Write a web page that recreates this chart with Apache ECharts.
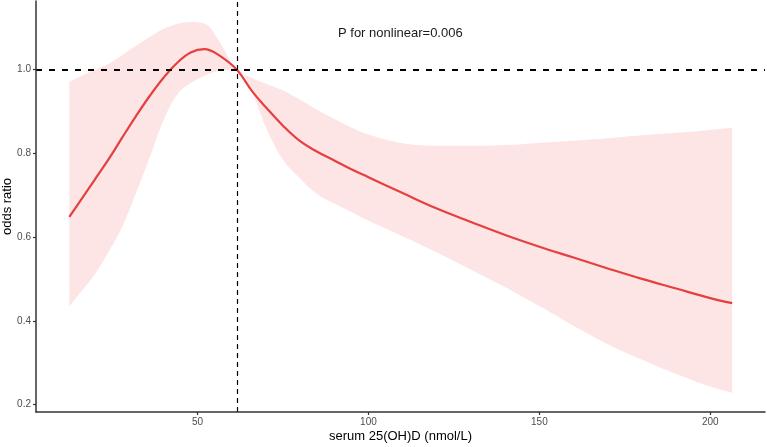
<!DOCTYPE html>
<html>
<head>
<meta charset="utf-8">
<script src="https://cdn.jsdelivr.net/npm/echarts@6/dist/echarts.min.js"></script>
<style>
html,body{margin:0;padding:0;background:#fff;}
#c{width:767px;height:447px;}
</style>
</head>
<body>
<div id="c"></div>
<script>
// serum 25(OH)D values (nmol/L)
var xs = [12.5, 16, 20, 24, 28, 32, 36, 40, 44, 48, 52, 56, 61.5, 66, 70, 75, 80, 85, 90, 95, 100, 110, 120, 130, 140, 150, 160, 170, 180, 190, 200, 206.4];
// odds ratio estimate
var orFit = [0.648, 0.690, 0.738, 0.786, 0.838, 0.889, 0.937, 0.980, 1.016, 1.041, 1.049, 1.036, 1.000, 0.948, 0.910, 0.866, 0.829, 0.804, 0.783, 0.762, 0.743, 0.705, 0.668, 0.636, 0.605, 0.577, 0.551, 0.525, 0.500, 0.477, 0.454, 0.442];
// 95% CI upper
var ciUpper = [0.971, 0.985, 1.000, 1.014, 1.035, 1.057, 1.078, 1.097, 1.109, 1.114, 1.110, 1.072, 1.000, 0.980, 0.966, 0.950, 0.928, 0.904, 0.882, 0.862, 0.845, 0.824, 0.818, 0.818, 0.820, 0.825, 0.830, 0.836, 0.843, 0.849, 0.856, 0.861];
// 95% CI lower
var ciLower = [0.435, 0.470, 0.512, 0.565, 0.625, 0.705, 0.790, 0.878, 0.940, 0.968, 0.985, 0.996, 1.000, 0.944, 0.862, 0.785, 0.740, 0.703, 0.680, 0.660, 0.639, 0.602, 0.563, 0.522, 0.480, 0.435, 0.388, 0.344, 0.307, 0.273, 0.243, 0.228];
var xTicks = [50, 100, 150, 200];
var yTicks = [0.2, 0.4, 0.6, 0.8, 1.0];
var refX = 61.5;
var refY = 1.0;
var pLabel = 'P for nonlinear=0.006';

// stacked band: first dimension = odds ratio (stacked), second = x
var fitData = xs.map(function(x, i){ return [x, orFit[i]]; });
var lowData = xs.map(function(x, i){ return [ciLower[i], x]; });
var bandData = xs.map(function(x, i){ return [ciUpper[i] - ciLower[i], x]; });

var FONT = '"Liberation Sans", Arial, sans-serif';
var SM = 0.4;
var chart = echarts.init(document.getElementById('c'), null, {renderer: 'canvas'});
chart.setOption({
  animation: false,
  backgroundColor: '#ffffff',
  grid: {left: 36, right: 2, top: 1, bottom: 35, containLabel: false, outerBoundsMode: 'none'},
  xAxis: {
    type: 'value',
    min: 2.75, max: 216,
    z: 10,
    name: 'serum 25(OH)D (nmol/L)',
    nameLocation: 'middle',
    nameGap: 18,
    nameMoveOverlap: false,
    nameTextStyle: {fontFamily: FONT, fontSize: 13, color: '#000'},
    axisLine: {show: true, onZero: false, lineStyle: {color: '#333333', width: 1.5}},
    axisTick: {show: true, length: 3, lineStyle: {color: '#333333', width: 1.2},
      customValues: xTicks},
    axisLabel: {fontFamily: FONT, fontSize: 10, color: '#4d4d4d', margin: 5,
      customValues: xTicks},
    splitLine: {show: false}
  },
  yAxis: {
    type: 'value',
    min: 0.182, max: 1.164,
    z: 10,
    name: 'odds ratio',
    nameLocation: 'middle',
    nameGap: 22,
    nameMoveOverlap: false,
    nameRotate: 90,
    nameTextStyle: {fontFamily: FONT, fontSize: 13, color: '#000'},
    axisLine: {show: true, onZero: false, lineStyle: {color: '#333333', width: 1.5}},
    axisTick: {show: true, length: 3, lineStyle: {color: '#333333', width: 1.2},
      customValues: yTicks},
    axisLabel: {fontFamily: FONT, fontSize: 10, color: '#4d4d4d', margin: 5,
      customValues: yTicks,
      formatter: function(v){ return v.toFixed(1); }},
    splitLine: {show: false}
  },
  graphic: [{
    type: 'text',
    left: 338, top: 27,
    style: {text: pLabel, fontFamily: FONT, fontSize: 13, fill: '#1a1a1a'},
    z: 100
  }],
  series: [
    {
      type: 'line', name: 'lower', data: lowData, stack: 'ci',
      encode: {x: 1, y: 0},
      symbol: 'none', smooth: SM, silent: true,
      lineStyle: {opacity: 0}, z: 1
    },
    {
      type: 'line', name: 'band', data: bandData, stack: 'ci',
      encode: {x: 1, y: 0},
      symbol: 'none', smooth: SM, silent: true,
      lineStyle: {opacity: 0},
      areaStyle: {color: '#fde5e5', opacity: 1}, z: 1
    },
    {
      type: 'line', name: 'fit', data: fitData,
      symbol: 'none', smooth: SM,
      lineStyle: {color: '#e53f3f', width: 2.2}, z: 3,
      markLine: {
        silent: true, symbol: 'none', label: {show: false}, animation: false,
        data: [
          {yAxis: refY, lineStyle: {color: '#000', width: 1.8, type: [6, 7]}},
          {xAxis: refX, lineStyle: {color: '#000', width: 1.2, type: [5, 4]}}
        ]
      }
    }
  ]
});
</script>
</body>
</html>
